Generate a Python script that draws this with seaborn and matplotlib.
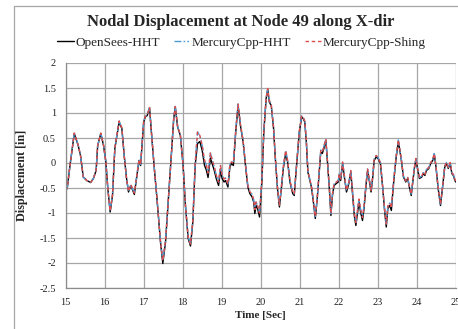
import matplotlib
matplotlib.use("Agg")
import matplotlib.pyplot as plt
from matplotlib.lines import Line2D
import numpy as np
import pandas as pd
import seaborn as sns

# Time history samples [sec]
time_sec = [
    15.00, 15.04, 15.11, 15.22, 15.32, 15.38, 15.45, 15.54, 15.64, 15.71,
    15.78, 15.82, 15.90, 15.97, 16.03, 16.08, 16.14, 16.20, 16.26, 16.37,
    16.44, 16.50, 16.56, 16.61, 16.67, 16.72, 16.76, 16.84, 16.88, 16.92,
    17.00, 17.04, 17.09, 17.15, 17.21, 17.28, 17.34, 17.43, 17.49, 17.56,
    17.64, 17.71, 17.77, 17.81, 17.87, 17.94, 18.01, 18.07, 18.14, 18.20,
    18.26, 18.32, 18.38, 18.44, 18.50, 18.56, 18.61, 18.65, 18.71, 18.75,
    18.81, 18.86, 18.92, 18.97, 19.01, 19.06, 19.10, 19.16, 19.21, 19.25,
    19.30, 19.36, 19.42, 19.48, 19.55, 19.61, 19.67, 19.72, 19.78, 19.82,
    19.85, 19.88, 19.92, 19.97, 20.03, 20.08, 20.14, 20.18, 20.22, 20.27,
    20.33, 20.37, 20.43, 20.48, 20.53, 20.58, 20.64, 20.69, 20.75, 20.82,
    20.86, 20.92, 20.99, 21.05, 21.09, 21.13, 21.17, 21.21, 21.30, 21.34,
    21.40, 21.45, 21.50, 21.54, 21.58, 21.62, 21.67, 21.70, 21.76, 21.80,
    21.84, 21.88, 21.94, 21.99, 22.01, 22.05, 22.10, 22.14, 22.20, 22.26,
    22.31, 22.36, 22.40, 22.44, 22.49, 22.52, 22.56, 22.61, 22.65, 22.70,
    22.74, 22.79, 22.83, 22.87, 22.91, 22.96, 23.01, 23.07, 23.13, 23.18,
    23.22, 23.26, 23.31, 23.35, 23.41, 23.47, 23.53, 23.60, 23.66, 23.72,
    23.77, 23.81, 23.86, 23.90, 23.94, 23.98, 24.02, 24.07, 24.13, 24.17,
    24.21, 24.25, 24.31, 24.36, 24.41, 24.45, 24.49, 24.55, 24.61, 24.66,
    24.72, 24.76, 24.81, 24.86, 24.90, 24.94, 24.98, 25.00,
]

# Displacement [in] from OpenSees (HHT integrator)
opensees_hht = [
    -0.55, -0.50, -0.05, 0.59, 0.35, 0.15, -0.28, -0.35, -0.39, -0.31,
    -0.15, 0.35, 0.59, 0.35, 0.02, -0.51, -0.98, -0.65, 0.29, 0.82,
    0.69, 0.15, -0.31, -0.58, -0.45, -0.55, -0.63, -0.18, 0.05, -0.05,
    0.82, 0.92, 0.95, 1.10, 0.49, -0.18, -0.71, -1.58, -2.01, -1.58,
    -0.65, 0.15, 0.89, 1.12, 0.72, 0.55, -0.05, -0.85, -1.51, -1.66,
    -1.18, -0.05, 0.39, 0.43, 0.25, -0.05, -0.15, -0.29, 0.10, 0.00,
    -0.15, -0.31, -0.45, -0.15, -0.31, -0.38, -0.35, -0.48, -0.08, -0.01,
    -0.05, 0.62, 1.15, 0.75, 0.42, -0.05, -0.48, -0.61, -0.68, -0.78,
    -1.01, -0.85, -0.91, -1.08, -0.38, 0.62, 1.29, 1.47, 1.22, 1.15,
    0.69, 0.15, -0.51, -0.88, -0.51, -0.11, 0.19, 0.02, -0.38, -0.61,
    -0.65, -0.05, 0.62, 0.92, 0.89, 0.82, 0.42, -0.18, -0.48, -0.71,
    -1.11, -0.71, -0.18, 0.22, 0.19, 0.29, 0.45, 0.15, -0.51, -1.05,
    -0.65, -0.45, -0.41, -0.38, -0.25, -0.35, -0.01, -0.25, -0.58, -0.41,
    -0.18, -0.65, -1.05, -1.25, -0.95, -0.78, -0.98, -1.15, -0.91, -0.45,
    -0.15, -0.38, -0.58, -0.31, 0.05, 0.12, 0.09, -0.01, -0.51, -0.98,
    -1.28, -0.91, -0.85, -0.95, -0.38, 0.09, 0.43, 0.09, -0.28, -0.38,
    -0.31, -0.48, -0.65, -0.38, -0.11, 0.07, -0.11, -0.31, -0.28, -0.21,
    -0.25, -0.15, -0.11, -0.01, 0.05, 0.17, -0.05, -0.51, -0.85, -0.51,
    -0.08, -0.01, -0.11, -0.01, -0.21, -0.25, -0.35, -0.38,
]

# Displacement [in] from MercuryCpp (HHT and Shing integrators coincide)
mercury_hht = [
    -0.55, -0.50, -0.05, 0.60, 0.36, 0.15, -0.28, -0.35, -0.39, -0.31,
    -0.15, 0.35, 0.60, 0.36, 0.02, -0.51, -0.96, -0.64, 0.30, 0.84,
    0.70, 0.15, -0.31, -0.57, -0.43, -0.53, -0.60, -0.16, 0.07, -0.03,
    0.83, 0.93, 0.96, 1.11, 0.50, -0.18, -0.70, -1.56, -1.95, -1.55,
    -0.63, 0.16, 0.90, 1.13, 0.73, 0.56, -0.04, -0.84, -1.48, -1.62,
    -1.15, 0.00, 0.62, 0.55, 0.35, 0.05, -0.05, -0.20, 0.20, 0.08,
    -0.08, -0.24, -0.38, -0.05, -0.24, -0.32, -0.30, -0.42, -0.03, 0.02,
    0.00, 0.66, 1.18, 0.78, 0.44, -0.03, -0.45, -0.57, -0.63, -0.73,
    -0.93, -0.78, -0.85, -1.00, -0.34, 0.65, 1.31, 1.49, 1.25, 1.17,
    0.71, 0.17, -0.48, -0.84, -0.48, -0.07, 0.25, 0.06, -0.35, -0.58,
    -0.62, -0.03, 0.64, 0.94, 0.91, 0.84, 0.44, -0.16, -0.46, -0.69,
    -1.07, -0.69, -0.16, 0.26, 0.23, 0.33, 0.48, 0.17, -0.49, -1.01,
    -0.62, -0.42, -0.38, -0.35, -0.22, -0.32, 0.02, -0.22, -0.55, -0.38,
    -0.15, -0.62, -1.00, -1.19, -0.90, -0.72, -0.92, -1.09, -0.86, -0.42,
    -0.12, -0.35, -0.55, -0.28, 0.08, 0.15, 0.11, 0.01, -0.49, -0.95,
    -1.22, -0.86, -0.80, -0.90, -0.35, 0.12, 0.46, 0.11, -0.26, -0.36,
    -0.29, -0.46, -0.62, -0.36, -0.09, 0.09, -0.09, -0.29, -0.26, -0.19,
    -0.23, -0.13, -0.09, 0.01, 0.07, 0.19, -0.03, -0.49, -0.82, -0.49,
    -0.06, 0.01, -0.09, 0.01, -0.19, -0.23, -0.33, -0.36,
]
mercury_shing = mercury_hht

series_labels = ["OpenSees-HHT", "MercuryCpp-HHT", "MercuryCpp-Shing"]
x_ticks = [15, 16, 17, 18, 19, 20, 21, 22, 23, 24, 25]
y_ticks = [-2.5, -2, -1.5, -1, -0.5, 0, 0.5, 1, 1.5, 2]

sns.set_theme(style="white")
plt.rcParams["font.family"] = ["Liberation Serif", "DejaVu Serif"]
plt.rcParams["axes.unicode_minus"] = False

W, H = 458, 329
fig = plt.figure(figsize=(W / 100, H / 100), dpi=100)
fig.patch.set_facecolor("white")

# chart frame (left and top edges)
frame_col = "#A6A6A6"
fig.add_artist(Line2D([13.5 / W, 13.5 / W], [0, 1 - 5.5 / H], transform=fig.transFigure,
                      color=frame_col, lw=0.9))
fig.add_artist(Line2D([13.5 / W, 1], [1 - 5.5 / H, 1 - 5.5 / H], transform=fig.transFigure,
                      color=frame_col, lw=0.9))

ax = fig.add_axes([65.7 / W, 1 - 288 / H, (455.7 - 65.7) / W, (288 - 63) / H])

df = pd.DataFrame({"t": time_sec, "os": opensees_hht, "mh": mercury_hht, "ms": mercury_shing})
sns.lineplot(data=df, x="t", y="os", ax=ax, color="black", lw=1.0, label=series_labels[0],
             estimator=None, sort=False)
sns.lineplot(data=df, x="t", y="mh", ax=ax, color="#4A9AD4", lw=1.0, label=series_labels[1],
             estimator=None, sort=False, dashes=False)
ax.lines[-1].set_dashes([5, 1.5, 1.2, 1.5, 1.2, 1.5])
sns.lineplot(data=df, x="t", y="ms", ax=ax, color="#DE4C4C", lw=1.0, label=series_labels[2],
             estimator=None, sort=False)
ax.lines[-1].set_dashes([2.5, 2.0])

ax.set_xlim(15, 25)
ax.set_ylim(-2.5, 2)
ax.set_xticks(x_ticks)
ax.set_xticklabels([str(v) for v in x_ticks])
ax.set_yticks(y_ticks)
ax.set_yticklabels([f"{v:g}" for v in y_ticks])
ax.grid(True, color="#A6A6A6", lw=0.9)
ax.set_axisbelow(True)
for side in ["top", "right"]:
    ax.spines[side].set_visible(False)
ax.spines["left"].set_color("#8C8C8C")
ax.spines["bottom"].set_color("#8C8C8C")
ax.spines["left"].set_linewidth(0.9)
ax.spines["bottom"].set_linewidth(0.9)
ax.tick_params(axis="both", length=0, labelsize=7.5, colors="#222222")
ax.tick_params(axis="y", pad=7)
ax.tick_params(axis="x", pad=7)

ax.set_xlabel("Time [Sec]", fontsize=8, fontweight="bold", labelpad=3)
ax.set_ylabel("Displacement [in]", fontsize=8.7, fontweight="bold", labelpad=8)

fig.text(240.5 / W, 1 - 22 / H, "Nodal Displacement at Node 49 along X-dir", ha="center",
         va="center", fontsize=12, fontweight="bold")

leg = ax.legend(loc="center", bbox_to_anchor=(241.5 / W, 1 - 43 / H), bbox_transform=fig.transFigure,
                ncol=3, frameon=False, fontsize=9.5, handlelength=1.25, handletextpad=0.1,
                columnspacing=1.05, borderpad=0)

fig.savefig("out.png", dpi=100, facecolor="white")
